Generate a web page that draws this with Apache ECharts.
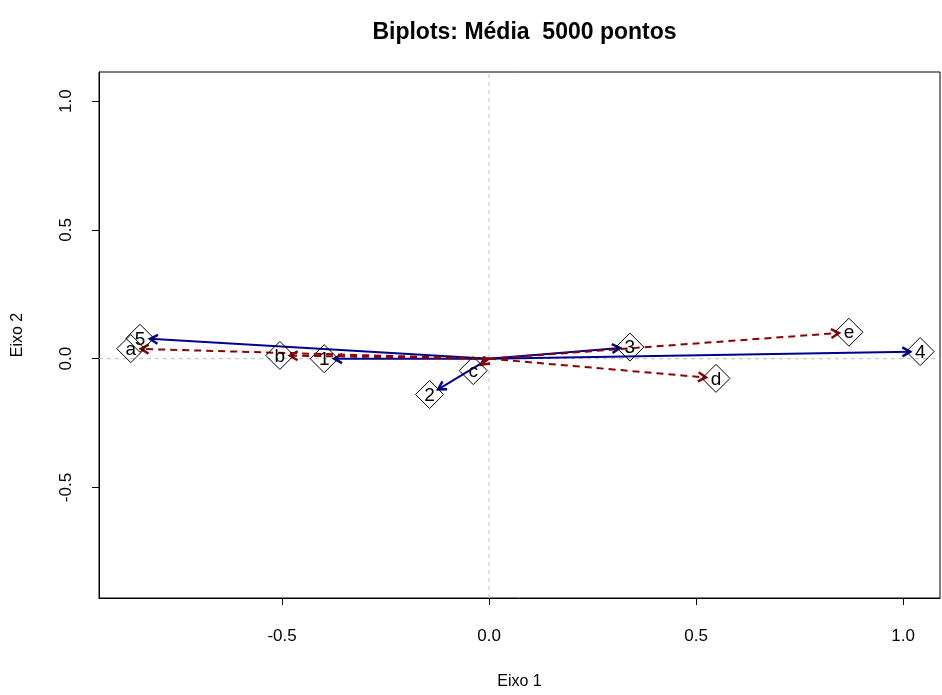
<!DOCTYPE html>
<html>
<head>
<meta charset="utf-8">
<script src="https://cdn.jsdelivr.net/npm/echarts@6/dist/echarts.min.js"></script>
<style>
html,body{margin:0;padding:0;background:#fff;}
#chart{width:942px;height:695px;}
</style>
</head>
<body>
<div id="chart"></div>
<script>
// ---- data ----
const titleText = 'Biplots: Média  5000 pontos';
const xName = 'Eixo 1';
const yName = 'Eixo 2';
const xMin = -0.942, xMax = 1.089;
const yMin = -0.929, yMax = 1.113;
const xTicks = [-0.5, 0.0, 0.5, 1.0];
const yTicks = [-0.5, 0.0, 0.5, 1.0];

// variables (blue, solid arrows)
const varLabels = ['1', '2', '3', '4', '5'];
const varX = [-0.374, -0.123, 0.316, 1.017, -0.819];
const varY = [0.000, -0.119, 0.042, 0.027, 0.077];

// objects (red, dashed arrows)
const objLabels = ['a', 'b', 'c', 'd', 'e'];
const objX = [-0.841, -0.481, -0.019, 0.524, 0.845];
const objY = [0.038, 0.012, -0.023, -0.073, 0.100];

const BLUE = '#00008B';
const RED = '#8B0000';
const FONT = '"Liberation Sans", Arial, sans-serif';

function toPairs(xs, ys) { return xs.map((x, i) => [x, ys[i]]); }

function arrowSeries(xs, ys, color, dashed, z) {
  return {
    type: 'custom',
    coordinateSystem: 'cartesian2d',
    z: z,
    silent: true,
    data: toPairs(xs, ys),
    renderItem: function (params, api) {
      const p0 = api.coord([0, 0]);
      const p1 = api.coord([api.value(0), api.value(1)]);
      const dx = p1[0] - p0[0], dy = p1[1] - p0[1];
      const len = Math.hypot(dx, dy) || 1;
      const bx = -dx / len, by = -dy / len;
      const h = 9, ang = Math.PI / 6;
      const rot = a => [bx * Math.cos(a) - by * Math.sin(a), bx * Math.sin(a) + by * Math.cos(a)];
      const r1 = rot(ang), r2 = rot(-ang);
      const a1 = [p1[0] + r1[0] * h, p1[1] + r1[1] * h];
      const a2 = [p1[0] + r2[0] * h, p1[1] + r2[1] * h];
      return {
        type: 'group',
        children: [
          { type: 'line', shape: { x1: p0[0], y1: p0[1], x2: p1[0], y2: p1[1] },
            style: { stroke: color, lineWidth: 2, lineDash: dashed ? [7, 5] : null } },
          { type: 'polyline', shape: { points: [a1, p1, a2] },
            style: { stroke: color, lineWidth: 2.5, fill: null } }
        ]
      };
    }
  };
}

function labelSeries(xs, ys, labels, z) {
  return {
    type: 'custom',
    coordinateSystem: 'cartesian2d',
    z: z,
    silent: true,
    data: toPairs(xs, ys),
    renderItem: function (params, api) {
      const p0 = api.coord([0, 0]);
      const p1 = api.coord([api.value(0), api.value(1)]);
      const dx = p1[0] - p0[0], dy = p1[1] - p0[1];
      const len = Math.hypot(dx, dy) || 1;
      const off = 10;
      const cx = p1[0] + dx / len * off, cy = p1[1] + dy / len * off;
      const s = 14;
      return {
        type: 'group',
        children: [
          { type: 'polygon', shape: { points: [[cx, cy - s], [cx + s, cy], [cx, cy + s], [cx - s, cy]] },
            style: { stroke: '#000', lineWidth: 1, fill: null } },
          { type: 'text', x: cx, y: cy + 1,
            style: { text: labels[params.dataIndex], fill: '#000', fontSize: 19, fontFamily: FONT,
                     align: 'center', verticalAlign: 'middle' } }
        ]
      };
    }
  };
}

const chart = echarts.init(document.getElementById('chart'), null, { renderer: 'canvas' });
const option = {
  animation: false,
  backgroundColor: '#fff',
  title: {
    text: titleText,
    left: 519.5,
    textAlign: 'center',
    top: 16,
    textStyle: { fontSize: 23, fontWeight: 'bold', color: '#000', fontFamily: FONT }
  },
  grid: {
    left: 99, top: 72, width: 841, height: 534,
    show: true, borderColor: '#000', borderWidth: 1, backgroundColor: 'transparent'
  },
  xAxis: {
    type: 'value', min: xMin, max: xMax,
    axisLine: { show: true, onZero: false, lineStyle: { color: '#000', width: 1 } },
    axisTick: { show: true, length: 7, customValues: xTicks, lineStyle: { color: '#000' } },
    axisLabel: { customValues: xTicks, formatter: v => v.toFixed(1), fontSize: 17, color: '#000',
                 margin: 30, fontFamily: FONT },
    splitLine: { show: false },
    name: xName, nameLocation: 'middle', nameGap: 76,
    nameTextStyle: { fontSize: 16, color: '#000', fontFamily: FONT }
  },
  yAxis: {
    type: 'value', min: yMin, max: yMax,
    axisLine: { show: true, onZero: false, lineStyle: { color: '#000', width: 1 } },
    axisTick: { show: true, length: 7, customValues: yTicks, lineStyle: { color: '#000' } },
    axisLabel: { customValues: yTicks, formatter: v => v.toFixed(1), fontSize: 17, color: '#000',
                 margin: 24, rotate: 90, fontFamily: FONT },
    splitLine: { show: false },
    name: yName, nameLocation: 'middle', nameGap: 73, nameRotate: 90,
    nameTextStyle: { fontSize: 16, color: '#000', fontFamily: FONT }
  },
  series: [
    { type: 'line', data: [[0, yMin], [0, yMax]], symbol: 'none', silent: true, z: 1,
      lineStyle: { color: '#BEBEBE', width: 1, type: [4, 4] } },
    { type: 'line', data: [[xMin, 0], [xMax, 0]], symbol: 'none', silent: true, z: 1,
      lineStyle: { color: '#BEBEBE', width: 1, type: [4, 4] } },
    arrowSeries(varX, varY, BLUE, false, 2),
    arrowSeries(objX, objY, RED, true, 3),
    labelSeries(varX, varY, varLabels, 4),
    labelSeries(objX, objY, objLabels, 4)
  ]
};
chart.setOption(option);
</script>
</body>
</html>
